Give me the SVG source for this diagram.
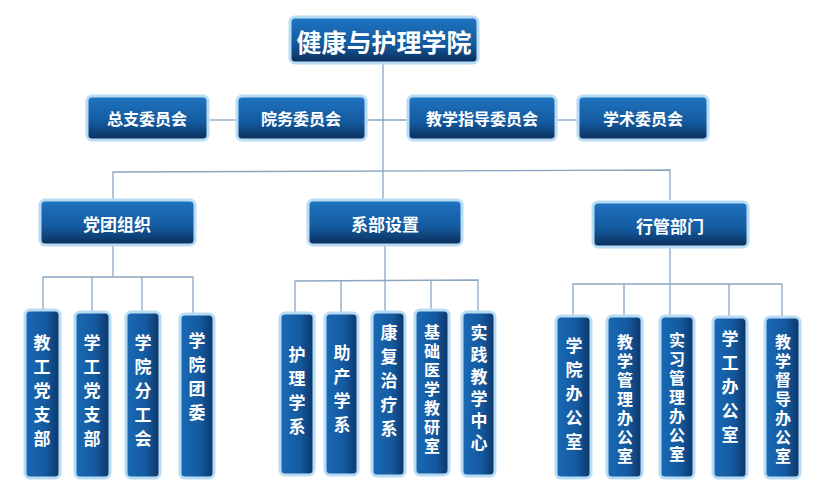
<svg xmlns="http://www.w3.org/2000/svg" width="817" height="500" viewBox="0 0 817 500">
<defs>
<linearGradient id="g" x1="0" y1="0" x2="0" y2="1"><stop offset="0" stop-color="#1f74c2"/><stop offset="0.6" stop-color="#135a9e"/><stop offset="1" stop-color="#0a2c58"/></linearGradient>
<linearGradient id="gv" x1="0" y1="0" x2="1" y2="0"><stop offset="0" stop-color="#1a6ab6"/><stop offset="0.6" stop-color="#14599e"/><stop offset="1" stop-color="#0c3466"/></linearGradient>
</defs>
<style>
.b{fill:url(#g);stroke:#b9dcf5;stroke-width:3}
.v{fill:url(#gv);stroke:#b9dcf5;stroke-width:3}
text{fill:#fff;font-family:"Noto Sans CJK SC","Liberation Sans",sans-serif;font-weight:bold;text-anchor:middle;dominant-baseline:central}
.vt{writing-mode:vertical-rl;letter-spacing:7px;font-size:17px}
.vt6{letter-spacing:5px}
.vt7{letter-spacing:3px;font-size:16px}
line,polyline{stroke:#8aa6c0;stroke-width:1.3;fill:none}
</style>
<rect width="817" height="500" fill="#fff"/>
<g id="connectors">
<line x1="383" y1="63" x2="383" y2="200"/>
<line x1="208" y1="120" x2="237" y2="120"/>
<line x1="366" y1="120" x2="408" y2="120"/>
<line x1="556" y1="120" x2="578" y2="120"/>
<polyline points="113,200 113,172 670,170 670,200"/>
<line x1="113" y1="245" x2="113" y2="277"/>
<polyline points="43,310 43,277 193,277 193,314"/>
<line x1="92" y1="277" x2="92" y2="312"/>
<line x1="142" y1="277" x2="142" y2="312"/>
<line x1="385" y1="245" x2="385" y2="312"/>
<polyline points="295,313 295,281 478,280 478,312"/>
<line x1="341" y1="281" x2="341" y2="313"/>
<line x1="431" y1="280" x2="431" y2="310"/>
<line x1="670" y1="247" x2="670" y2="317"/>
<polyline points="573,315 573,284 782,284 782,317"/>
<line x1="624" y1="284" x2="624" y2="316"/>
<line x1="729" y1="284" x2="729" y2="317"/>
</g>
<g id="n-root"><rect class="b" x="290" y="17" width="188" height="46" rx="5"/><text x="384" y="41" font-size="25">健康与护理学院</text></g>
<g id="n-zz"><rect class="b" x="87" y="96" width="121" height="44" rx="5"/><text x="147" y="118" font-size="16">总支委员会</text></g>
<g id="n-yw"><rect class="b" x="237" y="96" width="129" height="44" rx="5"/><text x="301" y="118" font-size="16">院务委员会</text></g>
<g id="n-jx"><rect class="b" x="408" y="96" width="148" height="44" rx="5"/><text x="482" y="118" font-size="16">教学指导委员会</text></g>
<g id="n-xs"><rect class="b" x="578" y="96" width="130" height="44" rx="5"/><text x="643" y="118" font-size="16">学术委员会</text></g>
<g id="n-dt"><rect class="b" x="40" y="200" width="155" height="45" rx="5"/><text x="117" y="223" font-size="17">党团组织</text></g>
<g id="n-xb"><rect class="b" x="308" y="200" width="154" height="45" rx="5"/><text x="385" y="223" font-size="17">系部设置</text></g>
<g id="n-xg"><rect class="b" x="593" y="202" width="155" height="45" rx="5"/><text x="670" y="225" font-size="17">行管部门</text></g>
<g id="n-1"><rect class="v" x="25" y="310" width="35" height="168" rx="5"/><text class="vt" x="42" y="394">教工党支部</text></g>
<g id="n-2"><rect class="v" x="75" y="312" width="35" height="166" rx="5"/><text class="vt" x="92" y="394">学工党支部</text></g>
<g id="n-3"><rect class="v" x="126" y="312" width="34" height="166" rx="5"/><text class="vt" x="143" y="394">学院分工会</text></g>
<g id="n-4"><rect class="v" x="180" y="314" width="34" height="164" rx="5"/><text class="vt" x="197" y="380">学院团委</text></g>
<g id="n-5"><rect class="v" x="280" y="313" width="34" height="162" rx="5"/><text class="vt" x="297" y="394">护理学系</text></g>
<g id="n-6"><rect class="v" x="325" y="313" width="33" height="162" rx="5"/><text class="vt" x="342" y="392">助产学系</text></g>
<g id="n-7"><rect class="v" x="372" y="312" width="33" height="164" rx="5"/><text class="vt" x="389" y="384">康复治疗系</text></g>
<g id="n-8"><rect class="v" x="415" y="310" width="34" height="165" rx="5"/><text class="vt vt7" x="432" y="390">基础医学教研室</text></g>
<g id="n-9"><rect class="v" x="462" y="312" width="33" height="164" rx="5"/><text class="vt vt6" x="479" y="390">实践教学中心</text></g>
<g id="n-10"><rect class="v" x="556" y="316" width="35" height="162" rx="5"/><text class="vt" x="574" y="397">学院办公室</text></g>
<g id="n-11"><rect class="v" x="607" y="316" width="35" height="162" rx="5"/><text class="vt vt7" x="625" y="400">教学管理办公室</text></g>
<g id="n-12"><rect class="v" x="660" y="316" width="34" height="162" rx="5"/><text class="vt vt7" x="677" y="398">实习管理办公室</text></g>
<g id="n-13"><rect class="v" x="713" y="317" width="34" height="161" rx="5"/><text class="vt" x="730" y="390">学工办公室</text></g>
<g id="n-14"><rect class="v" x="765" y="317" width="35" height="161" rx="5"/><text class="vt vt7" x="783" y="400">教学督导办公室</text></g>
</svg>
